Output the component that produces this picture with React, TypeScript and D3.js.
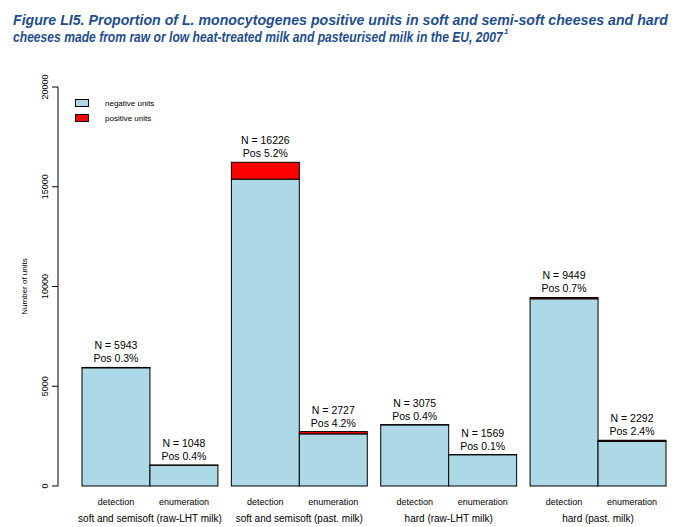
import React, { useLayoutEffect, useRef, useState } from "react";
import * as d3 from "d3";

const groups = [
  "soft and semisoft (raw-LHT milk)",
  "soft and semisoft (past. milk)",
  "hard (raw-LHT milk)",
  "hard (past. milk)",
];
const subTypes = ["detection", "enumeration"];
const totals = [5943, 1048, 16226, 2727, 3075, 1569, 9449, 2292];
const positives = [18, 4, 844, 115, 12, 2, 66, 55];
const posLabels = ["0.3%", "0.4%", "5.2%", "4.2%", "0.4%", "0.1%", "0.7%", "2.4%"];
const yTicks = [0, 5000, 10000, 15000, 20000];
const legendItems = ["negative units", "positive units"];
const titleLines = [
  "Figure LI5. Proportion of L. monocytogenes positive units in soft and semi-soft cheeses and hard",
  "cheeses made from raw or low heat-treated milk and pasteurised milk in the EU, 2007",
];

const NEG = "#add8e6";
const POS = "#ff0000";
const TITLE = "#1f4e8c";

export default function App() {
  const W = 689, H = 527;
  const y = d3.scaleLinear().domain([0, 20000]).range([486, 87]);
  const groupX = d3.scaleBand<number>().domain(d3.range(4)).range([82, 666]).paddingInner(0.09).paddingOuter(0);
  const barX = d3.scaleBand<number>().domain([0, 1]).range([0, groupX.bandwidth()]);
  const font = "Liberation Sans, Arial, sans-serif";
  const tfont = "Liberation Sans Narrow, Liberation Sans, Arial";

  const r1 = useRef<SVGTextElement>(null);
  const r2 = useRef<SVGTextElement>(null);
  const [sx, setSx] = useState<[number, number]>([1, 1]);
  const targets = [655, 490];
  useLayoutEffect(() => {
    const w1 = r1.current ? r1.current.getComputedTextLength() : targets[0];
    const w2 = r2.current ? r2.current.getComputedTextLength() : targets[1];
    setSx([targets[0] / w1, targets[1] / w2]);
  }, []);

  return (
    <svg width={W} height={H} style={{ position: "absolute", left: 0, top: 0, background: "#fff" }}>
      <g transform={`translate(13,25) scale(${sx[0]},1)`}>
        <text ref={r1} x={0} y={0} fill={TITLE} fontFamily={tfont} fontWeight="bold" fontStyle="italic" fontSize={15}>{titleLines[0]}</text>
      </g>
      <g transform={`translate(13,42) scale(${sx[1]},1)`}>
        <text ref={r2} x={0} y={0} fill={TITLE} fontFamily={tfont} fontWeight="bold" fontStyle="italic" fontSize={15}>{titleLines[1]}</text>
      </g>
      <text x={504} y={34} fill={TITLE} fontFamily={tfont} fontWeight="bold" fontStyle="italic" fontSize={8}>1</text>

      <line x1={58} x2={58} y1={y(0)} y2={y(20000)} stroke="#000" strokeWidth={1} />
      {yTicks.map((t) => (
        <g key={t}>
          <line x1={52} x2={58} y1={y(t)} y2={y(t)} stroke="#000" />
          <text transform={`translate(48,${y(t)}) rotate(-90)`} textAnchor="middle" fontFamily={font} fontSize={9} fill="#000">{t}</text>
        </g>
      ))}
      <text transform={`translate(27,${y(10000)}) rotate(-90)`} textAnchor="middle" fontFamily={font} fontSize={8} fill="#000">Number of units</text>

      {totals.map((n, i) => {
        const g = Math.floor(i / 2), s = i % 2;
        const x0 = (groupX(g) as number) + (barX(s) as number);
        const bw = barX.bandwidth();
        const neg = n - positives[i];
        const cx = x0 + bw / 2;
        return (
          <g key={i}>
            <rect x={x0} y={y(neg)} width={bw} height={y(0) - y(neg)} fill={NEG} stroke="#000" strokeWidth={1} />
            <rect x={x0} y={y(n)} width={bw} height={y(neg) - y(n)} fill={POS} stroke="#000" strokeWidth={1} />
            <text x={cx} y={y(n) - 18} textAnchor="middle" fontFamily={font} fontSize={10.5} fill="#000">N = {n}</text>
            <text x={cx} y={y(n) - 5} textAnchor="middle" fontFamily={font} fontSize={10.5} fill="#000">Pos {posLabels[i]}</text>
            <text x={cx} y={505} textAnchor="middle" fontFamily={font} fontSize={9} fill="#000">{subTypes[s]}</text>
          </g>
        );
      })}
      {groups.map((gName, g) => (
        <text key={gName} x={(groupX(g) as number) + groupX.bandwidth() / 2} y={522} textAnchor="middle" fontFamily={font} fontSize={10} fill="#000">{gName}</text>
      ))}

      {legendItems.map((l, i) => (
        <g key={l}>
          <rect x={75.5} y={99.5 + i * 15} width={13} height={7} fill={i === 0 ? NEG : POS} stroke="#000" strokeWidth={1} />
          <text x={105} y={106 + i * 15} fontFamily={font} fontSize={8} fill="#000">{l}</text>
        </g>
      ))}
    </svg>
  );
}
